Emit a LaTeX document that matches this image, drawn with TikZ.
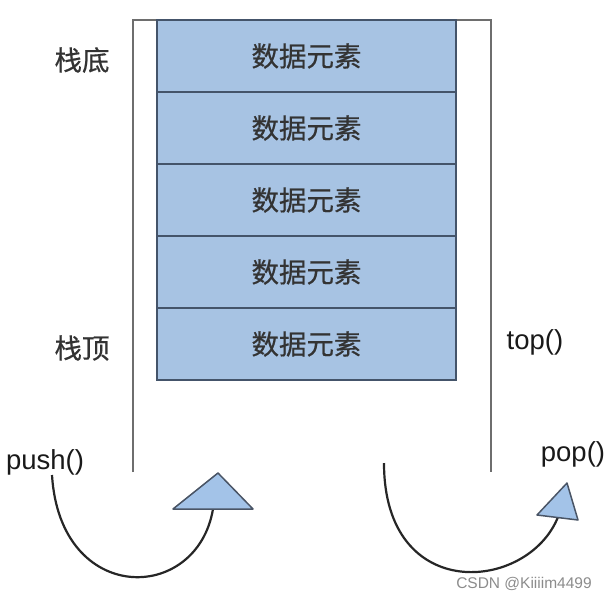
\documentclass[tikz,border=0pt]{standalone}
\usepackage{fontspec}
\setmainfont{Liberation Sans}
\newfontfamily\cjk[FakeBold=0.6]{Noto Sans CJK SC}
\definecolor{cellblue}{HTML}{A7C3E3}
\definecolor{cellline}{HTML}{44546A}
\definecolor{wallgray}{HTML}{6E6E6E}
\definecolor{txt}{HTML}{333333}
\definecolor{tri}{HTML}{A3C3E8}
\definecolor{triline}{HTML}{4A5566}
\begin{document}
\begin{tikzpicture}[x=1pt,y=-1pt]
\tikzset{
  cell/.style={draw=cellline, line width=1.8pt, fill=cellblue, minimum width=299pt, minimum height=72pt, inner sep=0pt, font=\cjk\fontsize{27.5}{32}\selectfont, text=txt},
  lbl/.style={font=\cjk\fontsize{27.5}{32}\selectfont, text=txt, inner sep=0pt},
  fn/.style={font=\fontsize{27.5}{32}\selectfont, text=black!90, inner sep=0pt},
  wall/.style={draw=wallgray, line width=1.8pt},
  curveline/.style={draw=black!85, line width=2.2pt},
  tribox/.style={draw=triline, line width=1.5pt, fill=tri, line join=round}
}
\useasboundingbox (0,0) rectangle (608,603);
\fill[white] (0,0) rectangle (608,603);
% walls
\coordinate (wl) at (133,472);
\coordinate (wtl) at (133,20);
\coordinate (wtr) at (491,20);
\coordinate (wr) at (491,472);
\draw[wall] (wl) -- (wtl) -- (wtr) -- (wr);
% cells
\node[cell] (c1) at (306.5,56) {数据元素};
\node[cell] (c2) at (306.5,128) {数据元素};
\node[cell] (c3) at (306.5,200) {数据元素};
\node[cell] (c4) at (306.5,272) {数据元素};
\node[cell] (c5) at (306.5,344) {数据元素};
% labels
\node[lbl] (bottom) at (82,60) {栈底};
\node[lbl] (topl) at (82,348) {栈顶};
\node[fn] (topf) at (535,342) {top()};
\node[fn] (push) at (45,462) {push()};
\node[fn] (pop) at (573,454) {pop()};
% push arrow
\coordinate (pa) at (218,473);
\coordinate (pl) at (173,509);
\coordinate (pr) at (253,509);
\coordinate (ps) at (52,475);
\coordinate (pe) at (213,509);
\draw[curveline] (ps) .. controls (60,606) and (197,604) .. (pe);
\draw[tribox] (pa) -- (pl) -- (pr) -- cycle;
% pop arrow
\coordinate (qa) at (567,483);
\coordinate (ql) at (537,515);
\coordinate (qr) at (578,520);
\coordinate (qs) at (384,463);
\coordinate (qe) at (558,517);
\draw[curveline] (qs) .. controls (384,605) and (528,592) .. (qe);
\draw[tribox] (qa) -- (ql) -- (qr) -- cycle;
% watermark
\node[font=\fontsize{15.5}{18}\selectfont, text=black!45, inner sep=0pt] (wm) at (524,584) {CSDN @Kiiiim4499};
\end{tikzpicture}
\end{document}
